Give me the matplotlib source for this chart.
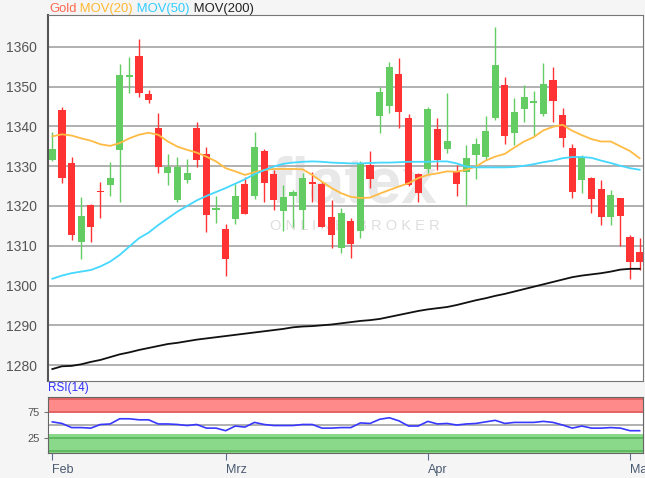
import numpy as np
import matplotlib.pyplot as plt

plt.rcParams['font.family'] = ['Liberation Sans', 'DejaVu Sans']

opens = [1331.6, 1344.2, 1330.7, 1311.0, 1320.2, 1323.8, 1325.3, 1334.1, 1352.4, 1357.6,
         1348.1, 1339.7, 1328.4, 1321.5, 1326.6, 1339.7, 1333.0, 1318.9, 1314.1, 1316.7,
         1325.5, 1322.4, 1333.9, 1328.0, 1318.8, 1322.6, 1319.0, 1326.1, 1325.5, 1317.3,
         1309.5, 1316.2, 1313.6, 1330.3, 1342.7, 1345.2, 1353.1, 1342.1, 1328.1, 1329.3,
         1339.3, 1334.3, 1328.6, 1328.6, 1332.8, 1332.4, 1342.1, 1350.4, 1338.3, 1344.3,
         1345.8, 1343.1, 1351.6, 1342.9, 1334.5, 1326.6, 1327.0, 1324.3, 1317.2, 1322.0,
         1312.1, 1308.5]
highs = [1338.7, 1345.0, 1332.4, 1322.2, 1320.6, 1326.1, 1331.0, 1355.6, 1357.4, 1362.0,
         1349.2, 1343.3, 1333.0, 1332.2, 1331.8, 1341.2, 1334.8, 1322.5, 1315.4, 1325.5,
         1327.4, 1338.5, 1334.3, 1329.0, 1325.3, 1324.0, 1328.2, 1328.6, 1326.0, 1321.5,
         1319.6, 1317.0, 1331.3, 1333.8, 1350.0, 1356.1, 1357.2, 1343.1, 1328.3, 1345.0,
         1342.1, 1348.3, 1330.3, 1335.4, 1337.0, 1342.7, 1365.1, 1352.3, 1347.1, 1350.4,
         1348.9, 1355.9, 1355.0, 1344.6, 1335.5, 1332.7, 1327.2, 1326.5, 1323.9, 1322.0,
         1312.7, 1311.9]
lows = [1331.2, 1325.7, 1311.5, 1306.7, 1310.9, 1316.9, 1322.6, 1321.0, 1348.5, 1347.5,
        1345.8, 1328.2, 1325.3, 1320.9, 1325.7, 1329.9, 1313.4, 1315.7, 1302.5, 1315.4,
        1317.9, 1321.8, 1321.0, 1319.0, 1313.6, 1314.8, 1314.2, 1321.1, 1314.8, 1309.5,
        1308.2, 1306.8, 1312.0, 1324.6, 1338.3, 1343.3, 1339.7, 1324.9, 1321.1, 1328.4,
        1329.1, 1333.3, 1322.6, 1320.3, 1326.8, 1331.6, 1341.6, 1335.6, 1335.2, 1341.0,
        1337.7, 1342.5, 1341.2, 1334.9, 1322.0, 1323.2, 1318.3, 1315.1, 1315.1, 1310.0,
        1301.7, 1304.0]
closes = [1334.4, 1327.1, 1312.7, 1317.6, 1314.8, 1323.4, 1327.0, 1352.8, 1352.8, 1348.3,
          1346.7, 1329.9, 1329.8, 1329.9, 1328.2, 1331.6, 1317.8, 1319.4, 1306.7, 1322.4,
          1317.9, 1334.8, 1325.7, 1321.5, 1322.2, 1323.4, 1327.0, 1325.5, 1314.8, 1312.7,
          1318.2, 1310.4, 1330.5, 1326.8, 1348.6, 1354.9, 1343.6, 1325.3, 1323.2, 1344.4,
          1331.6, 1336.4, 1325.5, 1332.0, 1335.6, 1338.9, 1355.5, 1337.7, 1343.7, 1347.5,
          1346.4, 1350.7, 1346.4, 1337.2, 1323.4, 1332.3, 1321.8, 1317.2, 1322.8, 1317.6,
          1305.8, 1305.8]

mov20 = [1337.5, 1338.0, 1337.7, 1337.0, 1336.4, 1335.5, 1335.1, 1335.8, 1337.0, 1337.9,
         1338.4, 1337.9, 1336.2, 1334.9, 1334.1, 1333.4, 1332.4, 1331.2, 1329.5, 1328.7,
         1327.8, 1328.5, 1329.0, 1329.3, 1329.3, 1329.3, 1329.2, 1327.8, 1326.1, 1324.5,
         1323.2, 1322.3, 1322.0, 1322.1, 1323.1, 1324.0, 1324.9, 1325.7, 1327.0, 1327.8,
         1328.2, 1328.7, 1328.6, 1329.1, 1329.9, 1331.4, 1332.4, 1333.1, 1334.7, 1336.2,
         1337.3, 1339.0, 1339.9, 1340.4, 1338.9, 1337.8, 1336.8, 1336.2, 1336.2, 1335.0,
         1333.8, 1332.0]
mov50 = [1301.7, 1302.5, 1303.1, 1303.5, 1303.9, 1304.8, 1306.0, 1307.7, 1309.8, 1311.9,
         1313.3, 1315.2, 1316.9, 1318.6, 1320.0, 1321.4, 1322.5, 1323.5, 1324.5, 1325.6,
         1326.7, 1328.0, 1329.0, 1329.9, 1330.6, 1330.9, 1331.1, 1331.2, 1331.1, 1330.9,
         1330.8, 1330.7, 1330.7, 1330.8, 1330.9, 1330.9, 1331.0, 1331.1, 1331.1, 1331.1,
         1331.2, 1331.2, 1330.7, 1329.9, 1329.7, 1329.7, 1329.7, 1329.7, 1329.8, 1330.1,
         1330.5, 1331.0, 1331.4, 1332.0, 1332.3, 1332.3, 1332.1, 1331.4, 1330.8, 1330.1,
         1329.5, 1329.1]
mov200 = [1279.0, 1279.7, 1279.8, 1280.2, 1280.8, 1281.3, 1282.0, 1282.7, 1283.2, 1283.8,
          1284.3, 1284.8, 1285.3, 1285.6, 1286.0, 1286.4, 1286.7, 1287.0, 1287.3, 1287.6,
          1287.9, 1288.2, 1288.5, 1288.8, 1289.1, 1289.5, 1289.7, 1289.8, 1290.0, 1290.2,
          1290.5, 1290.8, 1291.1, 1291.3, 1291.6, 1292.1, 1292.6, 1293.1, 1293.6, 1294.0,
          1294.3, 1294.6, 1295.1, 1295.7, 1296.3, 1296.8, 1297.4, 1297.9, 1298.5, 1299.1,
          1299.7, 1300.3, 1300.9, 1301.5, 1302.1, 1302.5, 1302.8, 1303.1, 1303.5, 1304.0,
          1304.2, 1304.2]
rsi = [56, 53, 45, 45, 44, 51, 52, 62, 62, 60,
       60, 52, 52, 51, 49, 51, 44, 44, 39, 48,
       46, 55, 51, 49, 49, 49, 51, 51, 44, 44,
       45, 45, 54, 53, 61, 64, 58, 48, 48, 57,
       52, 53, 50, 52, 53, 56, 59, 53, 55, 55,
       55, 57, 55, 50, 44, 48, 44, 44, 45, 44,
       39, 39]

price_ticks = [1280, 1290, 1300, 1310, 1320, 1330, 1340, 1350, 1360]
rsi_ticks = [25, 75]
month_pos = [0, 18, 39, 60]
month_labels = ['Feb', 'Mrz', 'Apr', 'Mai']

x = np.arange(len(opens))
o = np.array(opens)
c = np.array(closes)
col = np.where(c >= o, '#63cc63', '#ff3333')

fig = plt.figure(figsize=(6.45, 4.78), dpi=100, facecolor='#f5f5f5')
ax = fig.add_axes([48/645, 1 - 381/478, 595/645, 366/478])
ax2 = fig.add_axes([48/645, 1 - 453/478, 595/645, 56/478])

# main price panel
ax.set_facecolor('white')
ax.set_xlim(-0.45, 61.35)
ax.set_ylim(1276, 1368)
ax.set_yticks(price_ticks)
ax.set_xticks([])
ax.grid(axis='y', color='#aaaaaa', lw=1.3, zorder=0)
ax.set_axisbelow(True)
ax.tick_params(axis='y', length=0, pad=8, labelsize=10, labelcolor='#555555')
for s in ax.spines.values():
    s.set_color('#777777')
ax.spines['left'].set_color('#555555')
ax.spines['left'].set_linewidth(1.5)

# watermark
ax.text(0.515, 0.535, 'flatex', transform=ax.transAxes, ha='center', va='center',
        fontsize=46, fontweight='bold', color='#e8e8e8', zorder=0.5)
ax.text(0.515, 0.423, 'O N L I N E   B R O K E R', transform=ax.transAxes, ha='center',
        va='center', fontsize=10.5, color='#dedede', zorder=0.5)

ax.vlines(x, lows, highs, colors=col, lw=1, zorder=3)
ax.bar(x, np.maximum(np.abs(c - o), 0.4), bottom=np.minimum(o, c), width=0.74,
       color=col, zorder=4)

ax.plot(x, mov20, color='#ffbb44', lw=1.3, zorder=5)
ax.plot(x, mov50, color='#44d8ff', lw=1.3, zorder=5)
ax.plot(x, mov200, color='#111111', lw=1.3, zorder=5)

# legend line at the top
prev = fig.text(49/645, 1 - 9/478, 'Gold', color='#ff6a50', fontsize=9.4, va='center')
for label, color in [(' MOV(20)', '#ffb830'), (' MOV(50)', '#33ccff'), (' MOV(200)', '#222222')]:
    prev = ax.annotate(label, xy=(1, 0), xycoords=prev, va='bottom', ha='left',
                       color=color, fontsize=9.4, annotation_clip=False)

# RSI panel
ax2.set_facecolor('white')
ax2.set_xlim(-0.45, 61.35)
ax2.set_ylim(-4, 104)
ax2.axhspan(72.5, 104, color='#ff8a8a', lw=0, zorder=1)
ax2.axhspan(-4, 32.5, color='#8ad98a', lw=0, zorder=1)
ax2.axhline(100, color='#e06262', lw=1.3, zorder=2)
ax2.axhline(75, color='#e06262', lw=1.3, zorder=2)
ax2.axhline(25, color='#5cb85c', lw=1.3, zorder=2)
ax2.axhline(0, color='#5cb85c', lw=1.3, zorder=2)
ax2.axhline(50, color='#aaaaaa', lw=1.3, zorder=2)
ax2.plot(x, rsi, color='#3838ff', lw=1.2, zorder=3)
ax2.set_yticks(rsi_ticks)
ax2.tick_params(axis='y', length=3, pad=3, labelsize=8, labelcolor='#555555', color='#777777')
ax2.set_xticks(month_pos)
ax2.set_xticklabels(month_labels, ha='left')
ax2.tick_params(axis='x', length=5, pad=3, labelsize=9, labelcolor='#4a5a70', color='#5a6f90')
for s in ax2.spines.values():
    s.set_color('#666666')
ax2.text(0, 1.05, 'RSI(14)', transform=ax2.transAxes, color='#3030ff', fontsize=8.5,
         va='bottom', ha='left')

fig.savefig('out.png', dpi=100, facecolor=fig.get_facecolor())
